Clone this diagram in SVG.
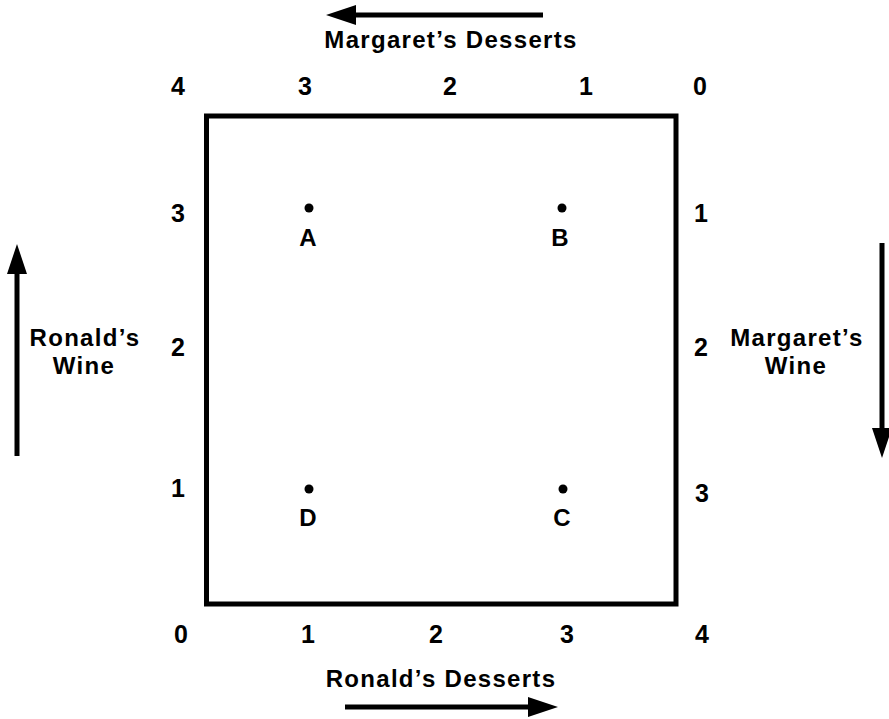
<svg xmlns="http://www.w3.org/2000/svg" width="889" height="719" viewBox="0 0 889 719">
<style>
text{font-family:"Liberation Sans",Arial,sans-serif;font-weight:bold;fill:#000;text-anchor:middle}
.num{font-size:25px}
.lbl{font-size:24px;letter-spacing:1.3px}
.pt{font-size:24px}
.ar{stroke:#000;stroke-width:5;fill:none}
</style>
<defs>
<marker id="ah" markerWidth="6" markerHeight="4" refX="0" refY="2" orient="auto" markerUnits="strokeWidth" viewBox="0 0 6 4">
<path d="M0,0 L6,2 L0,4 Z" fill="#000"/>
</marker>
</defs>
<rect x="206.5" y="116" width="469.5" height="488" fill="none" stroke="#000" stroke-width="5"/>
<g id="connectors">
<line class="ar" x1="543" y1="15" x2="356" y2="15" marker-end="url(#ah)"/>
<line class="ar" x1="345" y1="707" x2="528" y2="707" marker-end="url(#ah)"/>
<line class="ar" x1="17" y1="456" x2="17" y2="274" marker-end="url(#ah)"/>
<line class="ar" x1="882" y1="243" x2="882" y2="428" marker-end="url(#ah)"/>
</g>
<g id="labels">
<text class="lbl" x="451" y="48">Margaret’s Desserts</text>
<text class="lbl" x="441" y="687">Ronald’s Desserts</text>
<text class="lbl" x="85" y="346">Ronald’s</text>
<text class="lbl" x="84" y="374">Wine</text>
<text class="lbl" x="797" y="346">Margaret’s</text>
<text class="lbl" x="796" y="374">Wine</text>
</g>
<g id="top-scale">
<text class="num" x="178" y="95">4</text>
<text class="num" x="305" y="95">3</text>
<text class="num" x="450" y="95">2</text>
<text class="num" x="586" y="95">1</text>
<text class="num" x="700" y="95">0</text>
</g>
<g id="bottom-scale">
<text class="num" x="181" y="643">0</text>
<text class="num" x="308" y="643">1</text>
<text class="num" x="436" y="643">2</text>
<text class="num" x="567" y="643">3</text>
<text class="num" x="702" y="643">4</text>
</g>
<g id="left-scale">
<text class="num" x="178" y="222">3</text>
<text class="num" x="178" y="356">2</text>
<text class="num" x="178" y="497">1</text>
</g>
<g id="right-scale">
<text class="num" x="701" y="222">1</text>
<text class="num" x="701" y="356">2</text>
<text class="num" x="702" y="502">3</text>
</g>
<g id="A"><circle cx="309" cy="208" r="4.5"/><text class="pt" x="308" y="246">A</text></g>
<g id="B"><circle cx="562" cy="208" r="4.5"/><text class="pt" x="560" y="246">B</text></g>
<g id="C"><circle cx="563" cy="489" r="4.5"/><text class="pt" x="562" y="526">C</text></g>
<g id="D"><circle cx="309" cy="489" r="4.5"/><text class="pt" x="308" y="526">D</text></g>
</svg>
